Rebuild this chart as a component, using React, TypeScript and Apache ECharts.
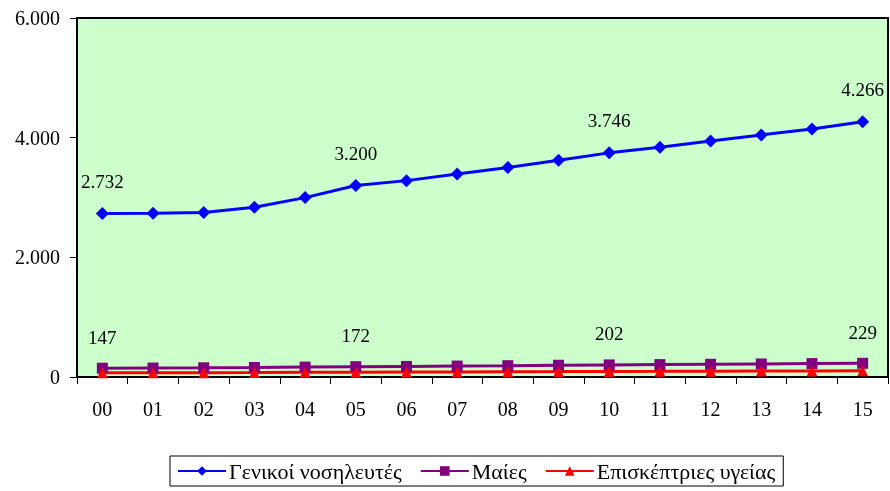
import React, { useEffect, useRef } from "react";
import * as echarts from "echarts";

const years = ["00", "01", "02", "03", "04", "05", "06", "07", "08", "09", "10", "11", "12", "13", "14", "15"];
const nurses = [2732, 2738, 2748, 2838, 2998, 3200, 3282, 3392, 3502, 3622, 3746, 3838, 3946, 4046, 4146, 4266];
const midwives = [147, 150, 154, 159, 166, 172, 177, 183, 189, 196, 202, 207, 212, 218, 224, 229];
const visitors = [70, 72, 73, 75, 78, 80, 83, 85, 88, 90, 93, 95, 98, 100, 102, 105];
const labeledIdx = [0, 5, 10, 15];
const yTicks = [0, 2000, 4000, 6000];

const fmt = (v: number) => String(v).replace(/\B(?=(\d{3})+(?!\d))/g, ".");
const FONT = "'Liberation Serif', 'Times New Roman', serif";

export default function App() {
  const ref = useRef<HTMLDivElement>(null);
  useEffect(() => {
    if (!ref.current) return;
    const chart = echarts.init(ref.current, null, { renderer: "svg" });
    const lbl = (show: boolean) => ({
      show,
      position: "top",
      distance: 16,
      formatter: (p: any) => fmt(p.value),
      color: "#000",
      fontFamily: FONT,
      fontSize: 19,
    });
    const mkData = (arr: number[]) =>
      arr.map((v, i) => ({ value: v, label: lbl(labeledIdx.includes(i)) }));
    chart.setOption({
      animation: false,
      textStyle: { fontFamily: FONT },
      grid: {
        left: 77,
        right: 2,
        top: 18,
        bottom: 114,
        show: true,
        backgroundColor: "#CCFFCC",
        borderColor: "#000",
        borderWidth: 2,
      },
      xAxis: {
        type: "category",
        data: years,
        boundaryGap: true,
        axisLine: { lineStyle: { color: "#000", width: 2 } },
        axisTick: { show: true, length: 7, lineStyle: { color: "#000", width: 1 } },
        axisLabel: { color: "#000", fontFamily: FONT, fontSize: 20, margin: 22 },
      },
      yAxis: {
        type: "value",
        min: yTicks[0],
        max: yTicks[yTicks.length - 1],
        interval: 2000,
        axisLine: { show: true, lineStyle: { color: "#000", width: 2 } },
        axisTick: { show: true, length: 7, lineStyle: { color: "#000", width: 1 } },
        splitLine: { show: false },
        axisLabel: { color: "#000", fontFamily: FONT, fontSize: 20, margin: 17, formatter: (v: number) => fmt(v) },
      },
      legend: {
        left: 170,
        top: 456,
        itemWidth: 48,
        itemHeight: 12,
        itemGap: 18,
        padding: [4, 8, 4, 7],
        borderColor: "#000",
        borderWidth: 1,
        textStyle: { color: "#000", fontFamily: FONT, fontSize: 22, padding: [0, 0, 0, -2] },
        data: ["Γενικοί νοσηλευτές", "Μαίες", "Επισκέπτριες υγείας"],
      },
      series: [
        {
          name: "Γενικοί νοσηλευτές",
          type: "line",
          data: mkData(nurses),
          symbol: "diamond",
          symbolSize: 13,
          color: "#0000FF",
          lineStyle: { width: 3, color: "#0000FF" },
          itemStyle: { color: "#0000FF" },
        },
        {
          name: "Μαίες",
          type: "line",
          data: mkData(midwives),
          symbol: "rect",
          symbolSize: 11,
          color: "#800080",
          lineStyle: { width: 3, color: "#800080" },
          itemStyle: { color: "#800080" },
        },
        {
          name: "Επισκέπτριες υγείας",
          type: "line",
          data: visitors,
          symbol: "triangle",
          symbolSize: 11,
          color: "#FF0000",
          lineStyle: { width: 3, color: "#FF0000" },
          itemStyle: { color: "#FF0000" },
        },
      ],
    });
    return () => chart.dispose();
  }, []);
  return <div ref={ref} style={{ position: "fixed", left: 0, top: 0, width: 890, height: 491 }} />;
}
